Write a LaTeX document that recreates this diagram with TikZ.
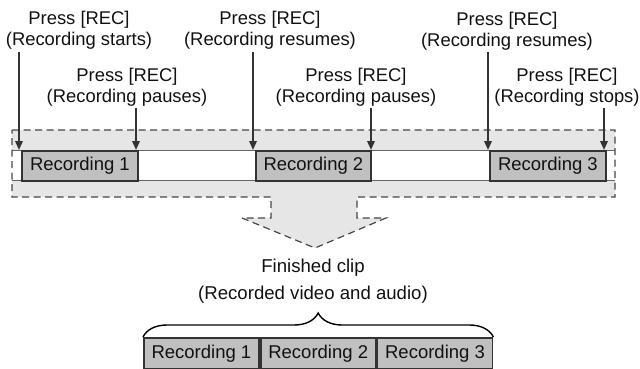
\documentclass[tikz,border=0pt]{standalone}
\usepackage{fontspec}
\setmainfont{Liberation Sans}
\usetikzlibrary{arrows.meta,decorations.pathreplacing,calc}
\definecolor{bandgray}{HTML}{E6E6E6}
\definecolor{boxgray}{HTML}{C0C0C0}
\definecolor{edgegray}{HTML}{333333}
\definecolor{linegray}{HTML}{666666}
\definecolor{txt}{HTML}{111111}
\begin{document}
\begin{tikzpicture}[x=1pt,y=-1pt,
  lbl/.style={align=center,font=\fontsize{18.4}{20.5}\selectfont,inner sep=0pt,text=txt},
  ftxt/.style={font=\fontsize{18.6}{20.5}\selectfont,inner sep=0pt,text=txt},
  recbox/.style={draw=edgegray,line width=1.8pt,fill=boxgray,minimum height=30pt,
    inner sep=0pt,font=\fontsize{18.5}{20}\selectfont,text=txt,anchor=north west},
  dashedge/.style={draw=edgegray!90,dash pattern=on 7pt off 4.5pt,line width=1.2pt},
  presarrow/.style={-{Triangle[length=9pt,width=7.5pt]},line width=1.8pt,draw=edgegray},
  clipbrace/.style={decorate,decoration={brace,amplitude=24pt},line width=1.4pt,draw=black}]
\useasboundingbox (0,0) rectangle (640,369);
% dashed band with arrow
\fill[bandgray] (12,130) -- (615,130) -- (615,197) -- (357,197) -- (357,218) -- (386,218)
  -- (315,248) -- (242,218) -- (271,218) -- (271,197) -- (12,197) -- cycle;
\fill[white] (12,150) rectangle (615,180);
\draw[linegray,line width=0.8pt] (12,150) -- (615,150) (12,180) -- (615,180);
\draw[dashedge] (12,130) -- (615,130) -- (615,197) -- (357,197) -- (357,218) -- (386,218)
  -- (315,248) -- (242,218) -- (271,218) -- (271,197) -- (12,197) -- cycle;
% recording boxes
\node[recbox,minimum width=116pt] (r1) at (21,150) {Recording 1};
\node[recbox,minimum width=115pt] (r2) at (255,150) {Recording 2};
\node[recbox,minimum width=116pt] (r3) at (489,150) {Recording 3};
% labels
\node[lbl] (L1) at (79,30) {Press [REC]\\(Recording starts)};
\node[lbl] (L2) at (127,87) {Press [REC]\\(Recording pauses)};
\node[lbl] (L3) at (270,30) {Press [REC]\\(Recording resumes)};
\node[lbl] (L4) at (356,87) {Press [REC]\\(Recording pauses)};
\node[lbl] (L5) at (507,31) {Press [REC]\\(Recording resumes)};
\node[lbl] (L6) at (567,87) {Press [REC]\\(Recording stops)};
% arrows
\coordinate (s1) at (19,52);
\coordinate (s2) at (136,108);
\coordinate (s3) at (253,52);
\coordinate (s4) at (371,108);
\coordinate (s5) at (488,52);
\coordinate (s6) at (604,108);
\draw[presarrow] (s1) -- (s1 |- r1.north);
\draw[presarrow] (s2) -- (s2 |- r1.north);
\draw[presarrow] (s3) -- (s3 |- r2.north);
\draw[presarrow] (s4) -- (s4 |- r2.north);
\draw[presarrow] (s5) -- (s5 |- r3.north);
\draw[presarrow] (s6) -- (s6 |- r3.north);
% finished clip
\node[ftxt] (F1) at (313,268) {Finished clip};
\node[ftxt] (F2) at (313,295) {(Recorded video and audio)};
\node[recbox,minimum width=115pt,minimum height=31pt] (b1) at (143,337) {Recording 1};
\node[recbox,minimum width=115pt,minimum height=31pt] (b2) at (b1.north east) {Recording 2};
\node[recbox,minimum width=115pt,minimum height=31pt] (b3) at (b2.north east) {Recording 3};
\draw[clipbrace] (b1.north west) -- (b3.north east);
\end{tikzpicture}
\end{document}
